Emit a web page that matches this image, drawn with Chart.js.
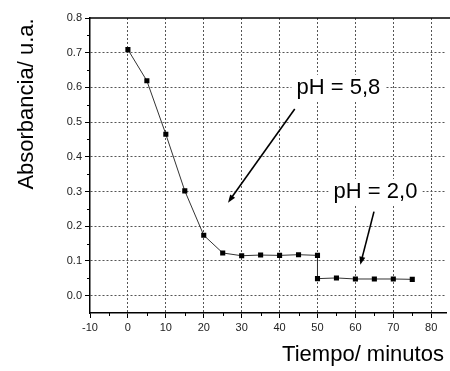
<!DOCTYPE html>
<html>
<head>
<meta charset="utf-8">
<script src="https://cdn.jsdelivr.net/npm/chart.js@4.4.1/dist/chart.umd.min.js"></script>
<style>
  html, body { margin: 0; padding: 0; background: #fff; }
  #wrap { width: 450px; height: 371px; }
</style>
</head>
<body>
<div id="wrap"><canvas id="absChart"></canvas></div>
<script>
// time (min) and absorbance for each pH
var tiempoPh58 = [0, 5, 10, 15, 20, 25, 30, 35, 40, 45, 50];
var absPh58 = [0.709, 0.619, 0.465, 0.302, 0.174, 0.123, 0.115, 0.117, 0.116, 0.118, 0.116];
var tiempoPh20 = [50, 55, 60, 65, 70, 75];
var absPh20 = [0.049, 0.051, 0.048, 0.048, 0.048, 0.047];

var xTicks = [-10, 0, 10, 20, 30, 40, 50, 60, 70, 80];
var yTicks = [0.0, 0.1, 0.2, 0.3, 0.4, 0.5, 0.6, 0.7, 0.8];

// labels with arrows: text position, arrow start, arrow end (data units)
var notes = [
    { text: 'pH = 5,8', at: [55.5, 0.599], from: [44, 0.538], to: [26.4, 0.268] },
    { text: 'pH = 2,0', at: [65.3, 0.299], from: [64.9, 0.242], to: [61.3, 0.089] }
];

var points = [];
tiempoPh58.forEach(function(t, i) { points.push({ x: t, y: absPh58[i] }); });
tiempoPh20.forEach(function(t, i) { points.push({ x: t, y: absPh20[i] }); });

var FONT = '"Liberation Sans", Arial, sans-serif';

var extras = {
    id: 'extras',
    afterDraw: function(chart) {
        var ctx = chart.ctx, a = chart.chartArea;
        var xs = chart.scales.x, ys = chart.scales.y;
        ctx.save();
        // top frame line
        ctx.strokeStyle = '#000';
        ctx.lineWidth = 1.5;
        ctx.beginPath();
        ctx.moveTo(a.left, a.top);
        ctx.lineTo(450, a.top);
        ctx.stroke();

        // minor ticks
        ctx.lineWidth = 1;
        ctx.beginPath();
        for (var v = -5; v <= 80; v += 10) {
            var px = Math.round(xs.getPixelForValue(v)) + 0.5;
            ctx.moveTo(px, a.bottom);
            ctx.lineTo(px, a.bottom + 3);
        }
        for (var w = 0.05; w < 0.8; w += 0.1) {
            var py = Math.round(ys.getPixelForValue(w)) + 0.5;
            ctx.moveTo(a.left, py);
            ctx.lineTo(a.left - 3, py);
        }
        ctx.stroke();

        // annotations
        ctx.fillStyle = '#000';
        ctx.font = '22px ' + FONT;
        ctx.textAlign = 'center';
        ctx.textBaseline = 'middle';
        notes.forEach(function(n) {
            var tx = xs.getPixelForValue(n.at[0]), ty = ys.getPixelForValue(n.at[1]);
            ctx.fillStyle = '#fff';
            var tw = ctx.measureText(n.text).width;
            ctx.fillRect(tx - tw / 2 - 5, ty - 13, tw + 10, 26);
            ctx.fillStyle = '#000';
            ctx.fillText(n.text, tx, ty);

            var x1 = xs.getPixelForValue(n.from[0]), y1 = ys.getPixelForValue(n.from[1]);
            var x2 = xs.getPixelForValue(n.to[0]), y2 = ys.getPixelForValue(n.to[1]);
            var ang = Math.atan2(y2 - y1, x2 - x1);
            ctx.lineWidth = 1.6;
            ctx.beginPath();
            ctx.moveTo(x1, y1);
            ctx.lineTo(x2 - 5 * Math.cos(ang), y2 - 5 * Math.sin(ang));
            ctx.stroke();
            ctx.beginPath();
            ctx.moveTo(x2, y2);
            ctx.lineTo(x2 - 8 * Math.cos(ang) + 3 * Math.sin(ang), y2 - 8 * Math.sin(ang) - 3 * Math.cos(ang));
            ctx.lineTo(x2 - 8 * Math.cos(ang) - 3 * Math.sin(ang), y2 - 8 * Math.sin(ang) + 3 * Math.cos(ang));
            ctx.closePath();
            ctx.fill();
        });

        // axis titles
        ctx.font = '22px ' + FONT;
        ctx.fillText('Tiempo/ minutos', 363, 355);
        ctx.translate(27, 104);
        ctx.rotate(-Math.PI / 2);
        ctx.fillText('Absorbancia/ u.a.', 0, 0);
        ctx.restore();
    }
};

function gridOpts(skipValue) {
    return {
        color: function(c) { return c.tick && c.tick.value === skipValue ? 'rgba(0,0,0,0)' : '#555'; },
        lineWidth: 1,
        tickLength: 5,
        tickColor: '#000',
        tickBorderDash: [],
        drawTicks: true
    };
}

var ctx = document.getElementById('absChart').getContext('2d');
var absChart = new Chart(ctx, {
    type: 'scatter',
    data: {
        datasets: [{
            data: points,
            showLine: true,
            borderColor: '#333',
            borderWidth: 1,
            backgroundColor: '#000',
            pointStyle: 'rect',
            pointRadius: 3.6,
            pointBorderWidth: 0,
            pointHoverRadius: 3.6
        }]
    },
    options: {
        responsive: true,
        maintainAspectRatio: false,
        animation: false,
        layout: { padding: { top: 18, right: 0, left: 0, bottom: 0 } },
        plugins: {
            legend: { display: false },
            tooltip: { enabled: false }
        },
        scales: {
            x: {
                type: 'linear',
                min: -10,
                max: 84,
                afterBuildTicks: function(s) { s.ticks = xTicks.map(function(v) { return { value: v }; }); },
                afterFit: function(s) { s.height = 58; },
                ticks: {
                    color: '#222',
                    font: { family: FONT, size: 11 },
                    padding: 3,
                    maxRotation: 0,
                    callback: function(v) { return String(v); }
                },
                grid: gridOpts(-10),
                border: { display: true, color: '#000', width: 1.5, dash: [2, 2] }
            },
            y: {
                min: -0.05,
                max: 0.8,
                afterBuildTicks: function(s) { s.ticks = yTicks.map(function(v) { return { value: v }; }); },
                afterFit: function(s) { s.width = 90; },
                ticks: {
                    color: '#222',
                    font: { family: FONT, size: 11 },
                    padding: 3,
                    callback: function(v) { return v.toFixed(1); }
                },
                grid: gridOpts(0.8),
                border: { display: true, color: '#000', width: 1.5, dash: [2, 2] }
            }
        }
    },
    plugins: [extras]
});
</script>
</body>
</html>
